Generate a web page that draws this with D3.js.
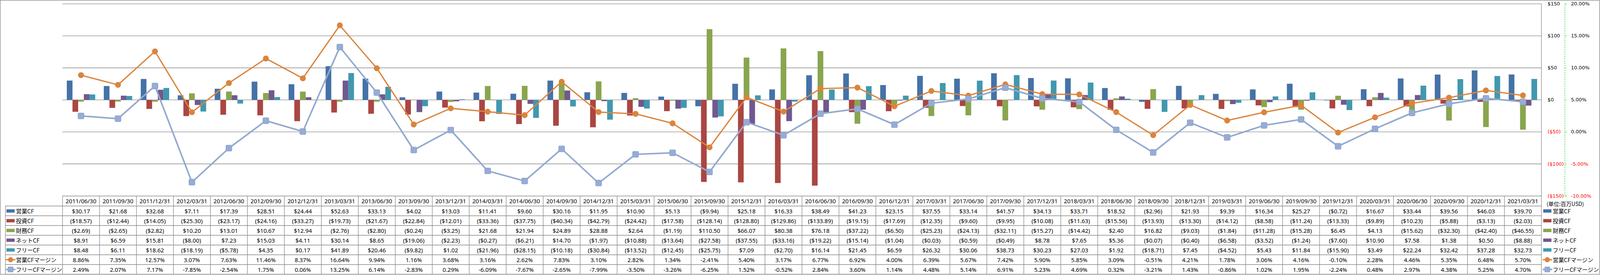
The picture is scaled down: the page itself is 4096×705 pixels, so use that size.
<!DOCTYPE html>
<html><head><meta charset="utf-8">
<script src="https://cdn.jsdelivr.net/npm/d3@7"></script>
<style>html,body{margin:0;padding:0;background:#fff;overflow:hidden}</style>
</head><body>
<svg id="c" width="4096" height="705"></svg>
<script>
const periods = ["2011/06/30","2011/09/30","2011/12/31","2012/03/31","2012/06/30","2012/09/30","2012/12/31","2013/03/31","2013/06/30","2013/09/30","2013/12/31","2014/03/31","2014/06/30","2014/09/30","2014/12/31","2015/03/31","2015/06/30","2015/09/30","2015/12/31","2016/03/31","2016/06/30","2016/09/30","2016/12/31","2017/03/31","2017/06/30","2017/09/30","2017/12/31","2018/03/31","2018/06/30","2018/09/30","2018/12/31","2019/03/31","2019/06/30","2019/09/30","2019/12/31","2020/03/31","2020/06/30","2020/09/30","2020/12/31","2021/03/31"];
const opCF = [30.17,21.68,32.68,7.11,17.39,28.51,24.44,52.63,33.13,4.02,13.03,11.41,9.60,30.16,11.95,10.90,5.13,-9.94,25.18,16.33,38.49,41.23,23.15,37.55,33.14,41.57,34.13,33.71,18.52,-2.96,21.93,9.39,16.34,25.27,-0.72,16.67,33.44,39.56,46.03,39.70];
const invCF = [-18.57,-12.44,-14.05,-25.30,-23.17,-24.16,-33.27,-19.73,-21.67,-22.84,-12.01,-33.36,-37.75,-40.34,-42.79,-24.42,-17.58,-128.14,-128.80,-129.86,-133.89,-19.15,-17.69,-12.35,-9.60,-9.95,-10.08,-11.63,-15.56,-13.93,-13.30,-14.12,-8.58,-11.24,-13.33,-9.89,-10.23,-5.88,-3.13,-2.03];
const finCF = [-2.69,-2.65,-2.82,10.20,13.01,10.67,12.94,-2.76,-2.80,-0.24,-3.25,21.68,21.94,24.89,28.88,2.64,-1.19,110.50,66.07,80.38,76.18,-37.22,-6.50,-25.23,-24.13,-32.11,-15.27,-14.42,2.40,16.82,-9.03,-1.84,-11.28,-15.28,6.45,4.13,-15.62,-32.30,-42.40,-46.55];
const netCF = [8.91,6.59,15.81,-8.00,7.23,15.03,4.11,30.14,8.65,-19.06,-2.23,-0.27,-6.21,14.70,-1.97,-10.88,-13.64,-27.58,-37.55,-33.16,-19.22,-15.14,-1.04,-0.03,-0.59,-0.49,8.78,7.65,5.36,-0.07,-0.40,-6.58,-3.52,-1.24,-7.60,10.90,7.58,1.38,0.50,-8.88];
const freeCF = [8.48,6.11,18.62,-18.19,-5.78,4.35,0.17,41.89,20.46,-9.82,1.02,-21.96,-28.15,-10.18,-30.84,-13.52,-12.45,-25.75,7.09,-2.70,16.14,21.45,6.59,26.32,30.06,38.73,30.23,27.03,1.92,-18.71,7.45,-4.52,5.43,11.84,-15.90,3.49,22.24,32.42,37.28,32.73];
const opMargin = [8.86,7.35,12.57,3.07,7.63,11.46,8.37,16.64,9.94,1.16,3.68,3.16,2.62,7.83,3.10,2.82,1.34,-2.41,5.40,3.17,6.77,6.92,4.00,6.39,5.67,7.42,5.90,5.85,3.09,-0.51,4.21,1.78,3.06,4.16,-0.10,2.28,4.46,5.35,6.48,5.70];
const freeMargin = [2.49,2.07,7.17,-7.85,-2.54,1.75,0.06,13.25,6.14,-2.83,0.29,-6.09,-7.67,-2.65,-7.99,-3.50,-3.26,-6.25,1.52,-0.52,2.84,3.60,1.14,4.48,5.14,6.91,5.23,4.69,0.32,-3.21,1.43,-0.86,1.02,1.95,-2.24,0.48,2.97,4.38,5.25,4.70];
const barNames = ["営業CF","投資CF","財務CF","ネットCF","フリーCF"];
const lineNames = ["営業CFマージン","フリーCFマージン"];
const barColors = ["#4572A7","#AA4643","#89A54E","#71588F","#4198AF"];
const lineColors = ["#DB843D","#93A9CF"];
const leftTicks = [150,100,50,0,-50,-100,-150];
const rightTicks = [20,15,10,5,0,-5,-10];
const unitLabel = "(単位:百万USD)";

const S = 4096/6226;
const svg = d3.select("#c");
const g = svg.append("g").attr("transform", `scale(${S})`);
const GRID = "#878787";
const NUMFONT = "'Noto Sans', sans-serif";
const JPFONT = "'Noto Sans CJK JP', 'Noto Sans', sans-serif";

g.append("rect").attr("x",1).attr("y",1).attr("width",6223).attr("height",1068)
  .attr("fill","#fff").attr("stroke",GRID).attr("stroke-width",2);

const L = 243.3, R = 5998, T = 15, B = 763.5;
const x = d3.scaleBand().domain(periods).range([L, R]).padding(0);
const x1 = d3.scaleBand().domain(barNames).range([0, x.bandwidth()]).paddingInner(0).paddingOuter(0.755);
const y = d3.scaleLinear().domain([-150, 150]).range([B, T]);
const y2 = d3.scaleLinear().domain([-10, 20]).range([B, T]);

// gridlines
g.append("g").selectAll("line").data(leftTicks).join("line")
  .attr("x1", L).attr("x2", R).attr("y1", d => y(d)).attr("y2", d => y(d))
  .attr("stroke", GRID).attr("stroke-width", 2);
g.append("line").attr("x1", R).attr("x2", R).attr("y1", T).attr("y2", B)
  .attr("stroke", GRID).attr("stroke-width", 2);

// bars
const barData = [opCF, invCF, finCF, netCF, freeCF];
barNames.forEach((name, i) => {
  g.append("g").selectAll("rect")
    .data(periods.map((p, j) => ({p, v: barData[i][j]})))
    .join("rect")
    .attr("x", d => x(d.p) + x1(name))
    .attr("width", x1.bandwidth())
    .attr("y", d => y(Math.max(0, d.v)))
    .attr("height", d => Math.abs(y(d.v) - y(0)))
    .attr("fill", barColors[i]);
});

// lines
const lineData = [opMargin, freeMargin];
const lineGen = d3.line().x(d => x(d.p) + x.bandwidth()/2).y(d => y2(d.v));
lineData.forEach((arr, i) => {
  const pts = periods.map((p, j) => ({p, v: arr[j]}));
  const lg = g.append("g");
  lg.append("path").datum(pts).attr("d", lineGen).attr("fill", "none")
    .attr("stroke", lineColors[i]).attr("stroke-width", i === 0 ? 5 : 6)
    .attr("stroke-linejoin", "round");
  if (i === 0) {
    lg.selectAll("circle").data(pts).join("circle")
      .attr("cx", d => x(d.p) + x.bandwidth()/2).attr("cy", d => y2(d.v))
      .attr("r", 11.5).attr("fill", lineColors[0]);
  } else {
    lg.selectAll("rect").data(pts).join("rect")
      .attr("x", d => x(d.p) + x.bandwidth()/2 - 11.5).attr("y", d => y2(d.v) - 11.5)
      .attr("width", 23).attr("height", 23).attr("rx", 4)
      .attr("fill", "#97ACD4").attr("stroke", "#8CA3CC").attr("stroke-width", 2);
  }
});

// axes
const fmtDollar = v => v < 0 ? `($${Math.abs(v)})` : `$${v}`;
const ax1 = g.append("g").attr("transform", "translate(6022,0)")
  .call(d3.axisRight(y).tickValues(leftTicks).tickSize(0).tickPadding(0).tickFormat(fmtDollar));
ax1.select(".domain").remove();
ax1.selectAll("text").attr("font-family", "'DejaVu Sans', sans-serif").attr("font-size", 19)
  .attr("fill", d => d < 0 ? "#FF0000" : "#000");

const ax2 = g.append("g").attr("transform", "translate(6089,0)")
  .call(d3.axisRight(y2).tickValues(rightTicks).tickSizeInner(8).tickSizeOuter(8).tickPadding(16)
    .tickFormat(v => v.toFixed(2) + "%"));
ax2.select(".domain").attr("stroke", "#22DD22").attr("stroke-width", 2).attr("stroke-dasharray", "5,4");
ax2.selectAll(".tick line").attr("stroke", "#22DD22").attr("stroke-width", 2).attr("stroke-dasharray", "3,2");
ax2.selectAll("text").attr("font-family", "'DejaVu Sans', sans-serif").attr("font-size", 19)
  .attr("fill", d => d < 0 ? "#FF0000" : "#000");

// data table
const headTop = 764, headH = 39, rowH = 38, legL = 21;
const rowTopY = i => headTop + headH + i * rowH;
const tableBottom = rowTopY(7);
const tg = g.append("g");
tg.append("line").attr("x1", L).attr("x2", R).attr("y1", headTop).attr("y2", headTop)
  .attr("stroke", GRID).attr("stroke-width", 2);
for (let i = 0; i <= 7; i++) {
  tg.append("line").attr("x1", legL).attr("x2", R).attr("y1", rowTopY(i)).attr("y2", rowTopY(i))
    .attr("stroke", GRID).attr("stroke-width", 2);
}
tg.selectAll("line.v").data(periods.concat(["__end"])).join("line").attr("class", "v")
  .attr("x1", d => d === "__end" ? R : x(d)).attr("x2", d => d === "__end" ? R : x(d))
  .attr("y1", headTop).attr("y2", tableBottom).attr("stroke", GRID).attr("stroke-width", 2);
tg.append("line").attr("x1", legL).attr("x2", legL).attr("y1", rowTopY(0)).attr("y2", tableBottom)
  .attr("stroke", GRID).attr("stroke-width", 2);

tg.selectAll("text.h").data(periods).join("text").attr("class", "h")
  .attr("x", d => x(d) + x.bandwidth()/2).attr("y", headTop + headH/2)
  .attr("text-anchor", "middle").attr("dominant-baseline", "central")
  .attr("font-family", NUMFONT).attr("font-size", 22.5).attr("fill", "#000").text(d => d);

const fmtMoney = v => v < 0 ? `($${Math.abs(v).toFixed(2)})` : `$${v.toFixed(2)}`;
const fmtPct = v => v.toFixed(2) + "%";
const rows = barData.map(a => ({vals: a, fmt: fmtMoney})).concat(lineData.map(a => ({vals: a, fmt: fmtPct})));
rows.forEach((r, i) => {
  tg.append("g").selectAll("text").data(periods.map((p, j) => ({p, v: r.vals[j]}))).join("text")
    .attr("x", d => x(d.p) + x.bandwidth()/2).attr("y", rowTopY(i) + rowH/2)
    .attr("text-anchor", "middle").attr("dominant-baseline", "central")
    .attr("font-family", NUMFONT).attr("font-size", 22.5).attr("fill", "#000")
    .text(d => r.fmt(d.v));
});

// legend keys (inside table and at right)
const allNames = barNames.concat(lineNames);
function legendKey(gx, cy, i) {
  const kg = g.append("g");
  if (i < 5) {
    kg.append("rect").attr("x", gx).attr("y", cy - 6.5).attr("width", 32).attr("height", 13).attr("fill", barColors[i]);
  } else if (i === 5) {
    kg.append("line").attr("x1", gx - 2).attr("x2", gx + 35).attr("y1", cy).attr("y2", cy)
      .attr("stroke", lineColors[0]).attr("stroke-width", 5);
    kg.append("circle").attr("cx", gx + 16).attr("cy", cy).attr("r", 10).attr("fill", lineColors[0]);
  } else {
    kg.append("line").attr("x1", gx - 2).attr("x2", gx + 35).attr("y1", cy).attr("y2", cy)
      .attr("stroke", lineColors[1]).attr("stroke-width", 6);
    kg.append("rect").attr("x", gx + 6).attr("y", cy - 10).attr("width", 20).attr("height", 20).attr("rx", 3)
      .attr("fill", "#97ACD4").attr("stroke", "#8CA3CC").attr("stroke-width", 2);
  }
  kg.append("text").attr("x", gx + 37).attr("y", cy).attr("dominant-baseline", "central")
    .attr("font-family", JPFONT).attr("font-size", 22).attr("fill", "#000").text(allNames[i]);
}
allNames.forEach((n, i) => {
  const cy = rowTopY(i) + rowH/2;
  legendKey(25, cy, i);
  legendKey(6005, cy, i);
});

g.append("text").attr("x", 6018).attr("y", 793).attr("dominant-baseline", "central")
  .attr("font-family", JPFONT).attr("font-size", 21).attr("fill", "#000").text(unitLabel);
</script>
</body></html>
